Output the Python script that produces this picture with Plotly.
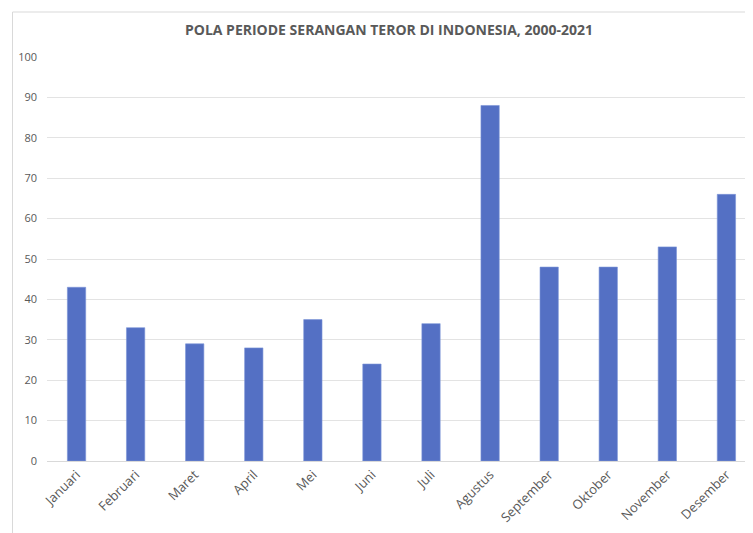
import plotly.graph_objects as go

months = ["Januari", "Februari", "Maret", "April", "Mei", "Juni", "Juli",
          "Agustus", "September", "Oktober", "November", "Desember"]
attacks = [43, 33, 29, 28, 35, 24, 34, 88, 48, 48, 53, 66]
y_ticks = list(range(0, 101, 10))

W, H = 745, 525
L, R, T, B = 38.5, 0, 49, 72
pw, ph = W - L - R, H - T - B

fig = go.Figure()
fig.add_trace(go.Bar(
    x=months, y=attacks,
    marker=dict(color="#5470C4", line=dict(color="#7b93d6", width=0.6)),
))

fig.update_layout(
    width=W, height=H,
    margin=dict(l=L, r=R, t=T, b=B),
    paper_bgcolor="white", plot_bgcolor="white",
    bargap=0.69,
    showlegend=False,
    font=dict(family="Open Sans, Liberation Sans, sans-serif", color="#595959", size=11),
    title=dict(
        text="<b>POLA PERIODE SERANGAN TEROR DI INDONESIA, 2000-2021</b>",
        x=(389 - 8) / W, xanchor="center", y=1 - (30 - 8) / H, yanchor="middle",
        font=dict(size=14, color="#595959", family="Open Sans, sans-serif"),
    ),
    xaxis=dict(
        range=[-0.5, 11.45], tickangle=-45, showgrid=False,
        showline=True, linecolor="#d9d9d9", ticks="", tickfont=dict(size=13),
    ),
    yaxis=dict(
        range=[0, 100], tickvals=y_ticks, showgrid=True, gridcolor="#e3e3e3",
        zeroline=False, showline=False, ticks="", ticklabelstandoff=9,
        tickfont=dict(size=11),
    ),
    shapes=[dict(type="rect", xref="paper", yref="paper",
                 x0=-(L - 4) / pw, x1=1.05, y0=-0.3, y1=1 + (T - 4) / ph,
                 line=dict(color="#d9d9d9", width=1), layer="below")],
)

fig.write_html("out.html")
